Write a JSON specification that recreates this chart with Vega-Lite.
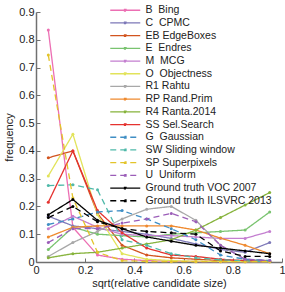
{
  "$schema": "https://vega.github.io/schema/vega-lite/v6.json",
  "width": 246,
  "height": 250,
  "autosize": {"type": "none"},
  "padding": {"left": 36, "top": 12, "right": 3, "bottom": 30},
  "background": "white",
  "config": {
    "font": "Liberation Sans",
    "view": {"stroke": null},
    "axis": {
      "grid": false,
      "domainColor": "#707070",
      "domainWidth": 1.5,
      "tickColor": "#707070",
      "tickSize": -4,
      "labelFontSize": 11,
      "labelColor": "#222222",
      "titleFontSize": 11,
      "titleFontWeight": "normal",
      "titleColor": "#222222",
      "labelFlush": false,
      "labelOverlap": false,
      "format": "~g"
    },
    "legend": {
      "orient": "none",
      "legendX": 84,
      "legendY": -7,
      "padding": 0,
      "labelFontSize": 10.5,
      "labelColor": "#222222",
      "labelOffset": 15,
      "symbolType": "M-5,0H5M-0.25,-0.25H0.25V0.25H-0.25Z",
      "symbolSize": 36,
      "rowPadding": 1.7,
      "titlePadding": 0
    }
  },
  "data": {"values": [
    {"s":"B\u00a0 Bing","x":0.05,"y":0.835},{"s":"B\u00a0 Bing","x":0.15,"y":0.125},{"s":"B\u00a0 Bing","x":0.25,"y":0.025},{"s":"B\u00a0 Bing","x":0.35,"y":0.01},{"s":"B\u00a0 Bing","x":0.45,"y":0.005},{"s":"B\u00a0 Bing","x":0.55,"y":0.003},{"s":"B\u00a0 Bing","x":0.65,"y":0.002},{"s":"B\u00a0 Bing","x":0.75,"y":0.001},{"s":"B\u00a0 Bing","x":0.85,"y":0.001},{"s":"B\u00a0 Bing","x":0.95,"y":0.001},
    {"s":"C\u00a0 CPMC","x":0.05,"y":0.165},{"s":"C\u00a0 CPMC","x":0.15,"y":0.13},{"s":"C\u00a0 CPMC","x":0.25,"y":0.12},{"s":"C\u00a0 CPMC","x":0.35,"y":0.11},{"s":"C\u00a0 CPMC","x":0.45,"y":0.1},{"s":"C\u00a0 CPMC","x":0.55,"y":0.085},{"s":"C\u00a0 CPMC","x":0.65,"y":0.065},{"s":"C\u00a0 CPMC","x":0.75,"y":0.045},{"s":"C\u00a0 CPMC","x":0.85,"y":0.035},{"s":"C\u00a0 CPMC","x":0.95,"y":0.07},
    {"s":"EB EdgeBoxes","x":0.05,"y":0.375},{"s":"EB EdgeBoxes","x":0.15,"y":0.4},{"s":"EB EdgeBoxes","x":0.25,"y":0.175},{"s":"EB EdgeBoxes","x":0.35,"y":0.06},{"s":"EB EdgeBoxes","x":0.45,"y":0.025},{"s":"EB EdgeBoxes","x":0.55,"y":0.015},{"s":"EB EdgeBoxes","x":0.65,"y":0.01},{"s":"EB EdgeBoxes","x":0.75,"y":0.005},{"s":"EB EdgeBoxes","x":0.85,"y":0.003},{"s":"EB EdgeBoxes","x":0.95,"y":0.002},
    {"s":"E\u00a0 Endres","x":0.05,"y":0.045},{"s":"E\u00a0 Endres","x":0.15,"y":0.125},{"s":"E\u00a0 Endres","x":0.25,"y":0.1},{"s":"E\u00a0 Endres","x":0.35,"y":0.095},{"s":"E\u00a0 Endres","x":0.45,"y":0.09},{"s":"E\u00a0 Endres","x":0.55,"y":0.1},{"s":"E\u00a0 Endres","x":0.65,"y":0.105},{"s":"E\u00a0 Endres","x":0.75,"y":0.11},{"s":"E\u00a0 Endres","x":0.85,"y":0.115},{"s":"E\u00a0 Endres","x":0.95,"y":0.18},
    {"s":"M\u00a0 MCG","x":0.05,"y":0.12},{"s":"M\u00a0 MCG","x":0.15,"y":0.165},{"s":"M\u00a0 MCG","x":0.25,"y":0.125},{"s":"M\u00a0 MCG","x":0.35,"y":0.1},{"s":"M\u00a0 MCG","x":0.45,"y":0.095},{"s":"M\u00a0 MCG","x":0.55,"y":0.095},{"s":"M\u00a0 MCG","x":0.65,"y":0.09},{"s":"M\u00a0 MCG","x":0.75,"y":0.085},{"s":"M\u00a0 MCG","x":0.85,"y":0.085},{"s":"M\u00a0 MCG","x":0.95,"y":0.11},
    {"s":"O\u00a0 Objectness","x":0.05,"y":0.31},{"s":"O\u00a0 Objectness","x":0.15,"y":0.46},{"s":"O\u00a0 Objectness","x":0.25,"y":0.17},{"s":"O\u00a0 Objectness","x":0.35,"y":0.03},{"s":"O\u00a0 Objectness","x":0.45,"y":0.01},{"s":"O\u00a0 Objectness","x":0.55,"y":0.005},{"s":"O\u00a0 Objectness","x":0.65,"y":0.003},{"s":"O\u00a0 Objectness","x":0.75,"y":0.002},{"s":"O\u00a0 Objectness","x":0.85,"y":0.001},{"s":"O\u00a0 Objectness","x":0.95,"y":0.001},
    {"s":"R1 Rahtu","x":0.05,"y":0.02},{"s":"R1 Rahtu","x":0.15,"y":0.07},{"s":"R1 Rahtu","x":0.25,"y":0.11},{"s":"R1 Rahtu","x":0.35,"y":0.155},{"s":"R1 Rahtu","x":0.45,"y":0.19},{"s":"R1 Rahtu","x":0.55,"y":0.2},{"s":"R1 Rahtu","x":0.65,"y":0.15},{"s":"R1 Rahtu","x":0.75,"y":0.06},{"s":"R1 Rahtu","x":0.85,"y":0.01},{"s":"R1 Rahtu","x":0.95,"y":0.005},
    {"s":"RP Rand.Prim","x":0.05,"y":0.09},{"s":"RP Rand.Prim","x":0.15,"y":0.125},{"s":"RP Rand.Prim","x":0.25,"y":0.13},{"s":"RP Rand.Prim","x":0.35,"y":0.13},{"s":"RP Rand.Prim","x":0.45,"y":0.13},{"s":"RP Rand.Prim","x":0.55,"y":0.13},{"s":"RP Rand.Prim","x":0.65,"y":0.115},{"s":"RP Rand.Prim","x":0.75,"y":0.086},{"s":"RP Rand.Prim","x":0.85,"y":0.06},{"s":"RP Rand.Prim","x":0.95,"y":0.03},
    {"s":"R4 Ranta.2014","x":0.05,"y":0.015},{"s":"R4 Ranta.2014","x":0.15,"y":0.03},{"s":"R4 Ranta.2014","x":0.25,"y":0.035},{"s":"R4 Ranta.2014","x":0.35,"y":0.05},{"s":"R4 Ranta.2014","x":0.45,"y":0.065},{"s":"R4 Ranta.2014","x":0.55,"y":0.08},{"s":"R4 Ranta.2014","x":0.65,"y":0.115},{"s":"R4 Ranta.2014","x":0.75,"y":0.16},{"s":"R4 Ranta.2014","x":0.85,"y":0.205},{"s":"R4 Ranta.2014","x":0.95,"y":0.25},
    {"s":"SS Sel.Search","x":0.05,"y":0.215},{"s":"SS Sel.Search","x":0.15,"y":0.4},{"s":"SS Sel.Search","x":0.25,"y":0.185},{"s":"SS Sel.Search","x":0.35,"y":0.105},{"s":"SS Sel.Search","x":0.45,"y":0.05},{"s":"SS Sel.Search","x":0.55,"y":0.025},{"s":"SS Sel.Search","x":0.65,"y":0.02},{"s":"SS Sel.Search","x":0.75,"y":0.01},{"s":"SS Sel.Search","x":0.85,"y":0.005},{"s":"SS Sel.Search","x":0.95,"y":0.003},
    {"s":"G\u00a0 Gaussian","x":0.05,"y":0.135},{"s":"G\u00a0 Gaussian","x":0.15,"y":0.155},{"s":"G\u00a0 Gaussian","x":0.25,"y":0.18},{"s":"G\u00a0 Gaussian","x":0.35,"y":0.185},{"s":"G\u00a0 Gaussian","x":0.45,"y":0.155},{"s":"G\u00a0 Gaussian","x":0.55,"y":0.12},{"s":"G\u00a0 Gaussian","x":0.65,"y":0.08},{"s":"G\u00a0 Gaussian","x":0.75,"y":0.025},{"s":"G\u00a0 Gaussian","x":0.85,"y":0.01},{"s":"G\u00a0 Gaussian","x":0.95,"y":0.005},
    {"s":"SW Sliding window","x":0.05,"y":0.275},{"s":"SW Sliding window","x":0.15,"y":0.278},{"s":"SW Sliding window","x":0.25,"y":0.26},{"s":"SW Sliding window","x":0.35,"y":0.08},{"s":"SW Sliding window","x":0.45,"y":0.06},{"s":"SW Sliding window","x":0.55,"y":0.03},{"s":"SW Sliding window","x":0.65,"y":0.015},{"s":"SW Sliding window","x":0.75,"y":0.008},{"s":"SW Sliding window","x":0.85,"y":0.004},{"s":"SW Sliding window","x":0.95,"y":0.002},
    {"s":"SP Superpixels","x":0.05,"y":0.745},{"s":"SP Superpixels","x":0.15,"y":0.23},{"s":"SP Superpixels","x":0.25,"y":0.035},{"s":"SP Superpixels","x":0.35,"y":0.005},{"s":"SP Superpixels","x":0.45,"y":0.002},{"s":"SP Superpixels","x":0.55,"y":0.001},{"s":"SP Superpixels","x":0.65,"y":0.001},{"s":"SP Superpixels","x":0.75,"y":0.001},{"s":"SP Superpixels","x":0.85,"y":0.001},{"s":"SP Superpixels","x":0.95,"y":0.001},
    {"s":"U\u00a0 Uniform","x":0.05,"y":0.07},{"s":"U\u00a0 Uniform","x":0.15,"y":0.12},{"s":"U\u00a0 Uniform","x":0.25,"y":0.12},{"s":"U\u00a0 Uniform","x":0.35,"y":0.14},{"s":"U\u00a0 Uniform","x":0.45,"y":0.155},{"s":"U\u00a0 Uniform","x":0.55,"y":0.175},{"s":"U\u00a0 Uniform","x":0.65,"y":0.145},{"s":"U\u00a0 Uniform","x":0.75,"y":0.06},{"s":"U\u00a0 Uniform","x":0.85,"y":0.01},{"s":"U\u00a0 Uniform","x":0.95,"y":0.005},
    {"s":"Ground truth VOC 2007","x":0.05,"y":0.17},{"s":"Ground truth VOC 2007","x":0.15,"y":0.225},{"s":"Ground truth VOC 2007","x":0.25,"y":0.15},{"s":"Ground truth VOC 2007","x":0.35,"y":0.12},{"s":"Ground truth VOC 2007","x":0.45,"y":0.09},{"s":"Ground truth VOC 2007","x":0.55,"y":0.075},{"s":"Ground truth VOC 2007","x":0.65,"y":0.06},{"s":"Ground truth VOC 2007","x":0.75,"y":0.05},{"s":"Ground truth VOC 2007","x":0.85,"y":0.04},{"s":"Ground truth VOC 2007","x":0.95,"y":0.03},
    {"s":"Ground truth ILSVRC 2013","x":0.05,"y":0.16},{"s":"Ground truth ILSVRC 2013","x":0.15,"y":0.2},{"s":"Ground truth ILSVRC 2013","x":0.25,"y":0.145},{"s":"Ground truth ILSVRC 2013","x":0.35,"y":0.12},{"s":"Ground truth ILSVRC 2013","x":0.45,"y":0.11},{"s":"Ground truth ILSVRC 2013","x":0.55,"y":0.105},{"s":"Ground truth ILSVRC 2013","x":0.65,"y":0.1},{"s":"Ground truth ILSVRC 2013","x":0.75,"y":0.04},{"s":"Ground truth ILSVRC 2013","x":0.85,"y":0.02},{"s":"Ground truth ILSVRC 2013","x":0.95,"y":0.02}
  ]},
  "mark": {"type": "line", "point": {"filled": true, "size": 9}},
  "encoding": {
    "x": {"field": "x", "type": "quantitative", "scale": {"domain": [0, 1]},
      "axis": {"values": [0, 0.2, 0.4, 0.6, 0.8, 1], "title": "sqrt(relative candidate size)", "labelPadding": 6, "titlePadding": 2}},
    "y": {"field": "y", "type": "quantitative", "scale": {"domain": [0, 0.9]},
      "axis": {"values": [0, 0.1, 0.2, 0.3, 0.4, 0.5, 0.6, 0.7, 0.8, 0.9], "title": "frequency", "labelPadding": 6, "titlePadding": 4}},
    "color": {"field": "s", "type": "nominal", "title": null,
      "scale": {
        "domain": ["B\u00a0 Bing","C\u00a0 CPMC","EB EdgeBoxes","E\u00a0 Endres","M\u00a0 MCG","O\u00a0 Objectness","R1 Rahtu","RP Rand.Prim","R4 Ranta.2014","SS Sel.Search","G\u00a0 Gaussian","SW Sliding window","SP Superpixels","U\u00a0 Uniform","Ground truth VOC 2007","Ground truth ILSVRC 2013"],
        "range": ["#ec6fb3","#7d78b8","#d2541f","#79c36f","#c47fd0","#e2e35a","#a8a8a8","#ef8a2f","#86b33b","#e5322f","#3f8ec4","#4fb9a9","#e3c42a","#9b5db8","#000000","#000000"]
      }},
    "strokeDash": {"field": "s", "type": "nominal", "title": null,
      "scale": {
        "domain": ["B\u00a0 Bing","C\u00a0 CPMC","EB EdgeBoxes","E\u00a0 Endres","M\u00a0 MCG","O\u00a0 Objectness","R1 Rahtu","RP Rand.Prim","R4 Ranta.2014","SS Sel.Search","G\u00a0 Gaussian","SW Sliding window","SP Superpixels","U\u00a0 Uniform","Ground truth VOC 2007","Ground truth ILSVRC 2013"],
        "range": [[1,0],[1,0],[1,0],[1,0],[1,0],[1,0],[1,0],[1,0],[1,0],[1,0],[6,4],[6,4],[6,4],[6,4],[1,0],[6,4]]
      }},
    "strokeWidth": {"field": "s", "type": "nominal", "title": null,
      "scale": {
        "domain": ["B\u00a0 Bing","C\u00a0 CPMC","EB EdgeBoxes","E\u00a0 Endres","M\u00a0 MCG","O\u00a0 Objectness","R1 Rahtu","RP Rand.Prim","R4 Ranta.2014","SS Sel.Search","G\u00a0 Gaussian","SW Sliding window","SP Superpixels","U\u00a0 Uniform","Ground truth VOC 2007","Ground truth ILSVRC 2013"],
        "range": [1.3,1.3,1.3,1.3,1.3,1.3,1.3,1.3,1.3,1.3,1.3,1.3,1.3,1.3,1.7,1.7]
      }}
  }
}
